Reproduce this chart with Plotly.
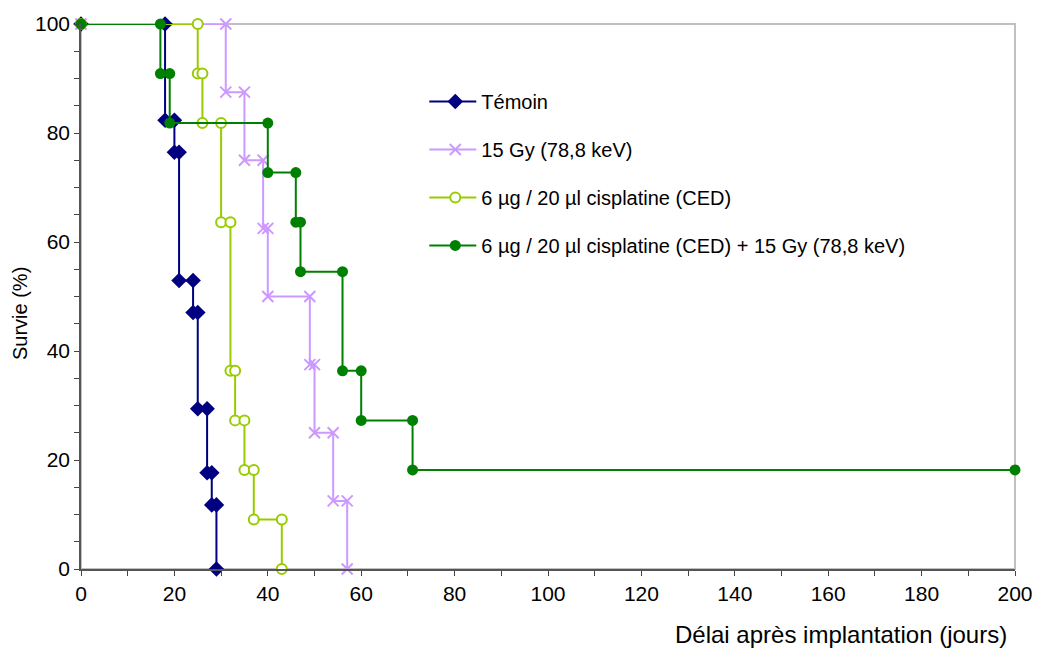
import plotly.graph_objects as go

# ---- Data (Kaplan-Meier step points, as plotted) ----
temoin_days = [0, 18, 18, 20, 20, 21, 21, 24, 24, 25, 25, 27, 27, 28, 28, 29, 29]
temoin_surv = [100, 100, 82.35, 82.35, 76.47, 76.47, 52.94, 52.94, 47.06, 47.06,
               29.41, 29.41, 17.65, 17.65, 11.76, 11.76, 0]

gy15_days = [0, 31, 31, 35, 35, 39, 39, 40, 40, 49, 49, 50, 50, 54, 54, 57, 57]
gy15_surv = [100, 100, 87.5, 87.5, 75, 75, 62.5, 62.5, 50, 50, 37.5, 37.5,
             25, 25, 12.5, 12.5, 0]

cis_days = [0, 25, 25, 26, 26, 30, 30, 32, 32, 33, 33, 35, 35, 37, 37, 43, 43]
cis_surv = [100, 100, 90.91, 90.91, 81.82, 81.82, 63.64, 63.64, 36.36, 36.36,
            27.27, 27.27, 18.18, 18.18, 9.09, 9.09, 0]

comb_days = [0, 17, 17, 19, 19, 40, 40, 46, 46, 47, 47, 56, 56, 60, 60, 71, 71, 200]
comb_surv = [100, 100, 90.91, 90.91, 81.82, 81.82, 72.73, 72.73, 63.64, 63.64,
             54.55, 54.55, 36.36, 36.36, 27.27, 27.27, 18.18, 18.18]

names = ["Témoin", "15 Gy (78,8 keV)", "6 µg / 20 µl cisplatine (CED)",
         "6 µg / 20 µl cisplatine (CED) + 15 Gy (78,8 keV)"]

x_ticks = [0, 20, 40, 60, 80, 100, 120, 140, 160, 180, 200]
y_ticks = [0, 20, 40, 60, 80, 100]

FONT = "Liberation Sans, Arial, sans-serif"

fig = go.Figure()

fig.add_trace(go.Scatter(
    x=temoin_days, y=temoin_surv, name=names[0], mode="lines+markers",
    line=dict(color="#000080", width=2),
    marker=dict(symbol="diamond", size=12, color="#000080"),
    cliponaxis=False, legendgroup="a"))
fig.add_trace(go.Scatter(
    x=gy15_days, y=gy15_surv, name=names[1], mode="lines+markers",
    line=dict(color="#CC99FF", width=2),
    marker=dict(symbol="x-thin", size=11, color="#CC99FF",
                line=dict(color="#CC99FF", width=2)),
    cliponaxis=False, legendgroup="b"))
fig.add_trace(go.Scatter(
    x=cis_days, y=cis_surv, name=names[2], mode="lines+markers",
    line=dict(color="#99CC00", width=2),
    marker=dict(symbol="circle", size=10, color="white",
                line=dict(color="#99CC00", width=2)),
    cliponaxis=False, legendgroup="c"))
fig.add_trace(go.Scatter(
    x=comb_days, y=comb_surv, name=names[3], mode="lines+markers",
    line=dict(color="#008000", width=2),
    marker=dict(symbol="circle", size=11, color="#008000"),
    cliponaxis=False, legendgroup="d"))

# light grey plot-area frame (top / right)
fig.add_shape(type="rect", xref="paper", yref="paper", x0=0, x1=1, y0=0, y1=1,
              line=dict(color="#C0C0C0", width=2), layer="below")

fig.update_xaxes(
    range=[0, 200], tickvals=x_ticks, ticks="outside", ticklen=5, tickwidth=1,
    tickcolor="#444", showline=True, linecolor="#555", linewidth=1.5,
    showgrid=False, zeroline=False,
    minor=dict(dtick=10, ticks="outside", ticklen=5, tickcolor="#444", showgrid=False),
    tickfont=dict(family=FONT, size=21, color="black"))
fig.update_yaxes(
    range=[0, 100], tickvals=y_ticks, ticks="outside", ticklen=5, tickwidth=1,
    tickcolor="#444", showline=True, linecolor="#555", linewidth=1.5,
    showgrid=False, zeroline=False,
    minor=dict(dtick=5, ticks="outside", ticklen=5, tickcolor="#444", showgrid=False),
    tickfont=dict(family=FONT, size=21, color="black"))

fig.add_annotation(text="Délai après implantation (jours)", xref="paper", yref="paper",
                   x=0.9936, y=-0.12, xanchor="right", yanchor="middle", showarrow=False,
                   font=dict(family=FONT, size=24, color="black"))
fig.add_annotation(text="Survie (%)", xref="paper", yref="paper", textangle=-90,
                   x=-0.0646, y=0.469, xanchor="center", yanchor="middle", showarrow=False,
                   font=dict(family=FONT, size=20, color="black"))

fig.update_layout(
    width=1045, height=650,
    margin=dict(l=81, r=20, t=21, b=81),
    paper_bgcolor="white", plot_bgcolor="white",
    showlegend=True,
    legend=dict(x=0.3729, y=0.8937, xanchor="left", yanchor="top", itemwidth=42,
                bgcolor="rgba(0,0,0,0)", tracegroupgap=19,
                font=dict(family=FONT, size=20, color="black")),
)

post = """
document.body.style.margin = '0';
document.body.style.overflow = 'hidden';
document.querySelectorAll('g.legendlines path').forEach(function(p){
  p.setAttribute('d', 'M-5,0h52');
});
"""

fig.write_html("out.html", post_script=post, config={"displayModeBar": False})
